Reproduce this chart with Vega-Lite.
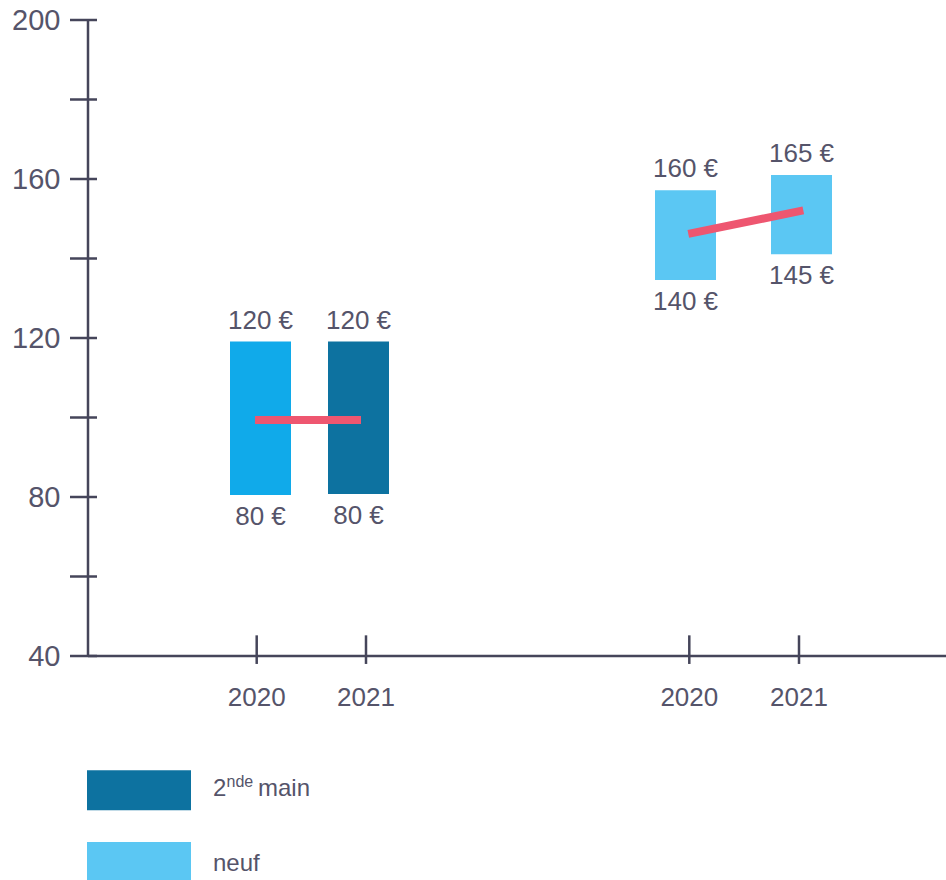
{
  "$schema": "https://vega.github.io/schema/vega-lite/v6.json",
  "width": 858,
  "height": 860,
  "autosize": {"type": "none"},
  "padding": {"left": 88, "top": 20, "right": 0, "bottom": 0},
  "background": "#ffffff",
  "config": {"view": {"stroke": null}, "font": "Liberation Sans"},
  "data": {"values": [{}]},
  "datasets": {
    "bars": [
      {"group": "A", "year": "2020", "shade": "vif", "pos": 17.25, "lo": 80.5, "hi": 119.1, "loLabel": "80 €", "hiLabel": "120 €"},
      {"group": "A", "year": "2021", "shade": "2nde main", "pos": 27.05, "lo": 80.75, "hi": 119.1, "loLabel": "80 €", "hiLabel": "120 €"},
      {"group": "B", "year": "2020", "shade": "neuf", "pos": 59.75, "lo": 134.6, "hi": 157.2, "loLabel": "140 €", "hiLabel": "160 €"},
      {"group": "B", "year": "2021", "shade": "neuf", "pos": 71.35, "lo": 141.1, "hi": 161.0, "loLabel": "145 €", "hiLabel": "165 €"}
    ],
    "ticksY": [{"v": 40}, {"v": 60}, {"v": 80}, {"v": 100}, {"v": 120}, {"v": 140}, {"v": 160}, {"v": 180}, {"v": 200}],
    "ticksX": [
      {"pos": 16.87, "year": "2020"},
      {"pos": 27.8, "year": "2021"},
      {"pos": 60.13, "year": "2020"},
      {"pos": 71.1, "year": "2021"}
    ],
    "lines": [
      {"group": "A", "pos": 16.7, "v": 99.4},
      {"group": "A", "pos": 27.3, "v": 99.4},
      {"group": "B", "pos": 60.03, "v": 146.2},
      {"group": "B", "pos": 71.53, "v": 152.1}
    ]
  },
  "layer": [
    {
      "data": {"name": "bars"},
      "mark": {"type": "bar", "width": 61},
      "encoding": {
        "x": {"field": "pos", "type": "quantitative", "scale": {"domain": [0, 85.8], "nice": false, "zero": false, "padding": 0}, "axis": null},
        "y": {
          "field": "hi", "type": "quantitative",
          "scale": {"domain": [-16.35, 200], "nice": false, "zero": false, "padding": 0},
          "axis": {"values": [40, 80, 120, 160, 200], "domain": false, "ticks": false, "tickSize": 0, "grid": false, "labelPadding": 28, "labelFontSize": 29, "labelColor": "#55546a", "labelFont": "Liberation Sans", "title": null, "orient": "left"}
        },
        "y2": {"field": "lo"},
        "color": {"field": "shade", "type": "nominal", "scale": {"domain": ["vif", "2nde main", "neuf"], "range": ["#10AAEA", "#0D72A0", "#5BC7F3"]}, "legend": null}
      }
    },
    {
      "mark": {"type": "rule", "color": "#45455a", "strokeWidth": 2.5},
      "encoding": {
        "x": {"datum": 0, "type": "quantitative", "axis": null},
        "y": {"datum": 40, "type": "quantitative"},
        "y2": {"datum": 200}
      }
    },
    {
      "mark": {"type": "rule", "color": "#45455a", "strokeWidth": 2.5},
      "encoding": {
        "y": {"datum": 40, "type": "quantitative"},
        "x": {"datum": 0, "type": "quantitative", "axis": null},
        "x2": {"datum": 85.8}
      }
    },
    {
      "data": {"name": "ticksY"},
      "mark": {"type": "rule", "color": "#45455a", "strokeWidth": 2.5},
      "encoding": {
        "y": {"field": "v", "type": "quantitative"},
        "x": {"datum": -1.8, "type": "quantitative", "axis": null},
        "x2": {"datum": 0.9}
      }
    },
    {
      "data": {"name": "ticksX"},
      "mark": {"type": "rule", "color": "#45455a", "strokeWidth": 2.5},
      "encoding": {
        "x": {"field": "pos", "type": "quantitative", "axis": null},
        "y": {"datum": 38, "type": "quantitative"},
        "y2": {"datum": 45.2}
      }
    },
    {
      "data": {"name": "ticksX"},
      "mark": {"type": "text", "fontSize": 26, "color": "#55546a", "dy": 42, "baseline": "middle", "align": "center"},
      "encoding": {
        "x": {"field": "pos", "type": "quantitative", "axis": null},
        "y": {"datum": 40, "type": "quantitative"},
        "text": {"field": "year"}
      }
    },
    {
      "data": {"name": "lines"},
      "mark": {"type": "line", "color": "#EE5670", "strokeWidth": 8, "strokeCap": "butt"},
      "encoding": {
        "x": {"field": "pos", "type": "quantitative", "axis": null},
        "y": {"field": "v", "type": "quantitative"},
        "detail": {"field": "group"}
      }
    },
    {
      "data": {"name": "bars"},
      "mark": {"type": "text", "fontSize": 26, "color": "#55546a", "dy": -21, "baseline": "middle", "align": "center"},
      "encoding": {
        "x": {"field": "pos", "type": "quantitative", "axis": null},
        "y": {"field": "hi", "type": "quantitative"},
        "text": {"field": "hiLabel"}
      }
    },
    {
      "data": {"name": "bars"},
      "mark": {"type": "text", "fontSize": 26, "color": "#55546a", "dy": 22, "baseline": "middle", "align": "center"},
      "encoding": {
        "x": {"field": "pos", "type": "quantitative", "axis": null},
        "y": {"field": "lo", "type": "quantitative"},
        "text": {"field": "loLabel"}
      }
    },
    {
      "mark": {"type": "point", "shape": "M-1,-0.3846H1V0.3846H-1Z", "size": 10816, "filled": true, "opacity": 1, "color": "#0D72A0"},
      "encoding": {
        "x": {"datum": 5.1, "type": "quantitative", "axis": null},
        "y": {"datum": 6.21, "type": "quantitative"}
      }
    },
    {
      "mark": {"type": "point", "shape": "M-1,-0.3846H1V0.3846H-1Z", "size": 10816, "filled": true, "opacity": 1, "color": "#5BC7F3"},
      "encoding": {
        "x": {"datum": 5.1, "type": "quantitative", "axis": null},
        "y": {"datum": -11.82, "type": "quantitative"}
      }
    },
    {
      "mark": {"type": "text", "text": "2", "fontSize": 24, "color": "#55546a", "align": "left", "baseline": "alphabetic", "dy": 6},
      "encoding": {
        "x": {"datum": 12.5, "type": "quantitative", "axis": null},
        "y": {"datum": 6.21, "type": "quantitative"}
      }
    },
    {
      "mark": {"type": "text", "text": "nde", "fontSize": 16, "color": "#55546a", "align": "left", "baseline": "alphabetic", "dy": -3},
      "encoding": {
        "x": {"datum": 13.85, "type": "quantitative", "axis": null},
        "y": {"datum": 6.21, "type": "quantitative"}
      }
    },
    {
      "mark": {"type": "text", "text": "main", "fontSize": 24, "color": "#55546a", "align": "left", "baseline": "alphabetic", "dy": 6},
      "encoding": {
        "x": {"datum": 17.0, "type": "quantitative", "axis": null},
        "y": {"datum": 6.21, "type": "quantitative"}
      }
    },
    {
      "mark": {"type": "text", "text": "neuf", "fontSize": 24, "color": "#55546a", "align": "left", "baseline": "alphabetic", "dy": 9},
      "encoding": {
        "x": {"datum": 12.5, "type": "quantitative", "axis": null},
        "y": {"datum": -11.82, "type": "quantitative"}
      }
    }
  ]
}
